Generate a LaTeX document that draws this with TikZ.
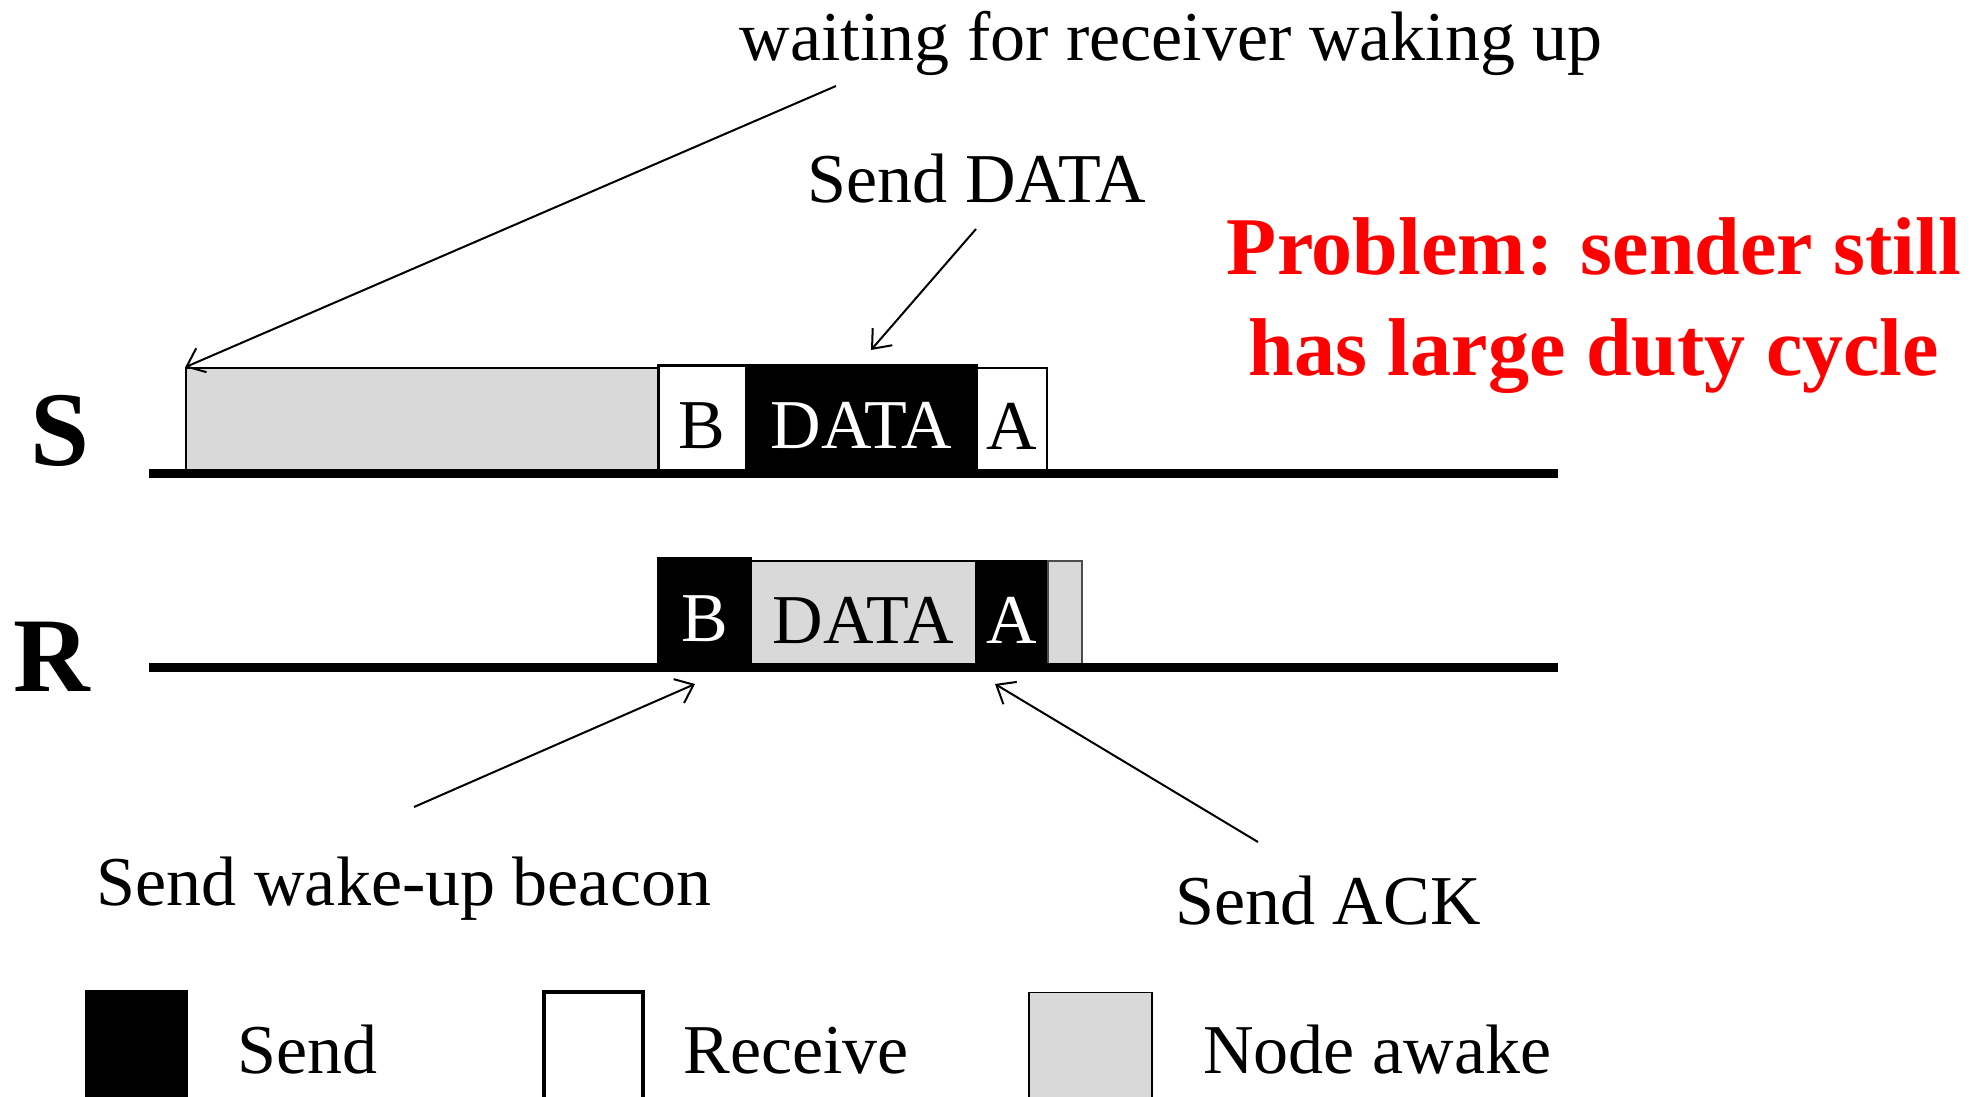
\documentclass[tikz,border=0pt]{standalone}
\usepackage{fontspec}
\setmainfont{Liberation Serif}
\usetikzlibrary{arrows.meta}
\definecolor{awake}{RGB}{217,217,217}
\definecolor{probred}{RGB}{255,0,0}
\begin{document}
\begin{tikzpicture}[x=0.5pt,y=-0.5pt,
  lbl/.style={font=\fontsize{35pt}{40pt}\selectfont, inner sep=0pt, anchor=base},
  leglbl/.style={font=\fontsize{35pt}{40pt}\selectfont, inner sep=0pt, anchor=base west},
  axislbl/.style={font=\fontsize{53pt}{60pt}\selectfont\bfseries, inner sep=0pt, anchor=base},
  slot/.style={inner sep=0pt, font=\fontsize{35pt}{40pt}\selectfont, text height=29pt, text depth=0pt},
  sendbox/.style={slot, fill=black, draw=black, line width=1pt, text=white},
  recvbox/.style={slot, fill=white, draw=black, line width=1.5pt},
  awakebox/.style={slot, fill=awake, draw=black, line width=0.8pt},
  timeline/.style={line width=4.5pt},
  ptr/.style={line width=1pt, -{Straight Barb[length=8pt,width=13pt]}}]
\useasboundingbox (0,0) rectangle (1980,1097);

% Sender row
\node[awakebox, minimum width=236pt, minimum height=52.5pt] (sAwake) at (422,420.5) {};
\node[recvbox, minimum width=44pt, minimum height=54pt] (sB) at (702,419) {B};
\node[sendbox, minimum width=115.5pt, minimum height=54pt] (sD) at (861.5,419) {DATA};
\node[recvbox, line width=0.8pt, minimum width=35pt, minimum height=52.5pt] (sA) at (1012,420.5) {A};
\coordinate (sL0) at (149,473);
\coordinate (sL1) at (1558,473);
\draw[timeline] (sL0) -- (sL1);
\node[axislbl] (S) at (60,465) {S};

% Receiver row
\node[sendbox, minimum width=46.5pt, minimum height=54.5pt] (rB) at (704.5,612.5) {B};
\node[awakebox, draw=black, line width=1.2pt, minimum width=112.5pt, minimum height=53pt] (rD) at (863.5,614) {DATA};
\node[sendbox, minimum width=36pt, minimum height=53pt] (rA) at (1012,614) {A};
\node[awakebox, draw=black!70, minimum width=17pt, minimum height=53pt] (rT) at (1065,614) {};
\coordinate (rL0) at (149,667);
\coordinate (rL1) at (1558,667);
\draw[timeline] (rL0) -- (rL1);
\node[axislbl] (R) at (52,691) {R};

% Annotations
\node[lbl] (wait) at (1171,61) {waiting for receiver waking up};
\coordinate (waitT) at (836,86);
\draw[ptr] (waitT) -- (sAwake.north west);

\node[lbl] (sendData) at (977,202) {Send DATA};
\coordinate (sdT) at (976,229);
\coordinate (sdH) at (871,350);
\draw[ptr] (sdT) -- (sdH);

\node[lbl] (beacon) at (404,905) {Send wake-up beacon};
\coordinate (bT) at (414,807);
\coordinate (bH) at (695,684);
\draw[ptr] (bT) -- (bH);

\node[lbl] (ack) at (1328,924) {Send ACK};
\coordinate (aT) at (1258,842);
\coordinate (aH) at (995,684);
\draw[ptr] (aT) -- (aH);

\node[font=\fontsize{41pt}{50.5pt}\selectfont\bfseries, text=probred, align=center, inner sep=0pt, anchor=base] (problem) at (1594,375) {Problem: sender still\\has large duty cycle};

% Legend
\node[sendbox, minimum width=50.5pt, minimum height=54.5pt] (legSend) at (136.5,1045.5) {};
\node[recvbox, line width=2pt, minimum width=49.5pt, minimum height=54pt] (legRecv) at (593.5,1046) {};
\node[awakebox, minimum width=61.5pt, minimum height=54pt] (legAwake) at (1090.5,1046.5) {};
\node[leglbl] (legSendT) at (237,1073) {Send};
\node[leglbl] (legRecvT) at (683,1073) {Receive};
\node[leglbl] (legAwakeT) at (1203,1073) {Node awake};
\end{tikzpicture}
\end{document}
